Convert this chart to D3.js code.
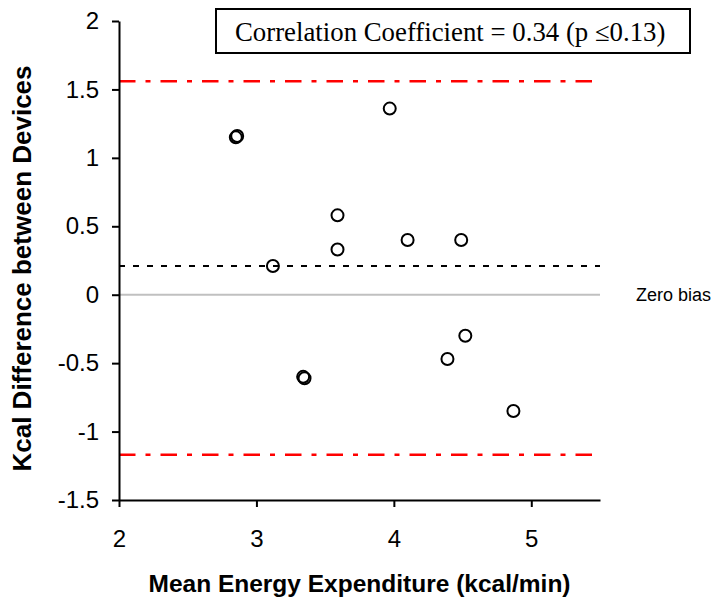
<!DOCTYPE html>
<html lang="en">
<head>
<meta charset="utf-8"/>
<title>Bland-Altman plot</title>
<style>
  * { margin: 0; padding: 0; }
  body { background: #fff; }
  svg { display: block; }
  .axis text { font-family: "Liberation Sans", Arial, sans-serif; font-size: 24px; fill: #000; }
  .axis path, .axis line { stroke: #000; stroke-width: 2px; }
  text.title { font-family: "Liberation Sans", Arial, sans-serif; font-weight: bold; fill: #000; }
  text.note { font-family: "Liberation Sans", Arial, sans-serif; font-size: 18px; fill: #000; }
  text.corr { font-family: "Liberation Serif", "Times New Roman", serif; font-size: 26.8px; fill: #000; }
</style>
<script src="https://d3js.org/d3.v7.min.js"></script>
</head>
<body>
<svg id="chart" width="720" height="607"></svg>
<script>
// mean of the two devices (kcal/min) and the difference between them
const meanEE = [2.85, 2.86, 3.12, 3.34, 3.35, 3.59, 3.59, 3.97, 4.10, 4.39, 4.49, 4.52, 4.87];
const kcalDiff = [1.15, 1.16, 0.21, -0.60, -0.61, 0.58, 0.33, 1.36, 0.40, -0.47, 0.40, -0.30, -0.85];

// reference lines: bias and limits of agreement
const meanBias = 0.21;
const limits = [1.56, -1.17];

const xTicks = [2, 3, 4, 5];
const yTicks = [-1.5, -1, -0.5, 0, 0.5, 1, 1.5, 2];
const corrText = "Correlation Coefficient = 0.34 (p \u22640.13)";

const points = meanEE.map((m, i) => ({ x: m, y: kcalDiff[i] }));

const svg = d3.select("#chart");
const plot = { left: 119, right: 600, top: 21, bottom: 500 };

const x = d3.scaleLinear().domain([2, 5.5]).range([plot.left, plot.right]);
const y = d3.scaleLinear().domain([-1.5, 2]).range([plot.bottom, plot.top]);

// zero bias line
svg.append("line")
  .attr("x1", x(2)).attr("x2", x(5.5))
  .attr("y1", y(0)).attr("y2", y(0))
  .attr("stroke", "#c0c0c0").attr("stroke-width", 2);

// mean difference
svg.append("line")
  .attr("x1", x(2)).attr("x2", x(5.5))
  .attr("y1", y(meanBias)).attr("y2", y(meanBias))
  .attr("stroke", "#000").attr("stroke-width", 2)
  .attr("stroke-dasharray", "6 8");

// limits of agreement
svg.selectAll("line.limit")
  .data(limits)
  .enter().append("line")
  .attr("class", "limit")
  .attr("x1", x(2)).attr("x2", x(5.5))
  .attr("y1", d => y(d)).attr("y2", d => y(d))
  .attr("stroke", "#ff0000").attr("stroke-width", 2.5)
  .attr("stroke-dasharray", "16.5 10 5 10");

// axes
svg.append("g")
  .attr("class", "axis")
  .attr("transform", `translate(0,${plot.bottom})`)
  .call(d3.axisBottom(x).tickValues(xTicks).tickSize(7).tickSizeOuter(0).tickPadding(23).tickFormat(d3.format("d")));

svg.append("g")
  .attr("class", "axis")
  .attr("transform", `translate(${plot.left},0)`)
  .call(d3.axisLeft(y).tickValues(yTicks).tickSize(7).tickSizeOuter(0).tickPadding(13).tickFormat(d => String(d)));

// points
svg.append("g")
  .selectAll("circle")
  .data(points)
  .enter().append("circle")
  .attr("cx", d => x(d.x))
  .attr("cy", d => y(d.y))
  .attr("r", 6)
  .attr("fill", "none")
  .attr("stroke", "#000")
  .attr("stroke-width", 2);

svg.append("text")
  .attr("class", "note")
  .attr("x", 636).attr("y", y(0) + 6)
  .text("Zero bias");

// correlation box
svg.append("rect")
  .attr("x", 216).attr("y", 9)
  .attr("width", 474).attr("height", 44)
  .attr("fill", "#fff").attr("stroke", "#000").attr("stroke-width", 2);

svg.append("text")
  .attr("class", "corr")
  .attr("x", 235).attr("y", 41)
  .text(corrText);

// axis titles
svg.append("text")
  .attr("class", "title")
  .attr("x", (plot.left + plot.right) / 2)
  .attr("y", 592)
  .attr("text-anchor", "middle")
  .style("font-size", "24.5px")
  .text("Mean Energy Expenditure (kcal/min)");

svg.append("text")
  .attr("class", "title")
  .attr("transform", `translate(31,${(plot.top + plot.bottom) / 2 + 8}) rotate(-90)`)
  .attr("text-anchor", "middle")
  .style("font-size", "26px")
  .text("Kcal Difference between Devices");
</script>
</body>
</html>
